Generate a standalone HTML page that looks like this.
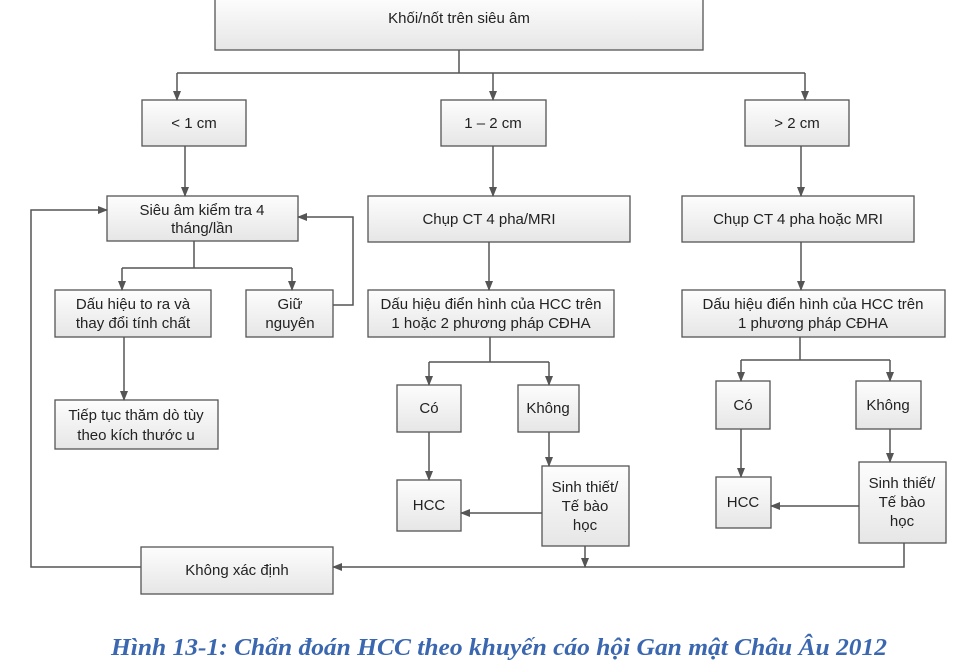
<!DOCTYPE html>
<html><head><meta charset="utf-8"><style>
html,body{margin:0;padding:0;background:#fff;}
svg{display:block;}
text{font-family:"Liberation Sans",sans-serif;font-size:15px;fill:#222;text-anchor:middle;}
.b{fill:url(#g);stroke:#555;stroke-width:1.3;}
.l{stroke:#555;stroke-width:1.5;fill:none;}
</style></head><body>
<svg width="975" height="670" viewBox="0 0 975 670">
<defs>
<linearGradient id="g" x1="0" y1="0" x2="0" y2="1"><stop offset="0" stop-color="#fdfdfd"/><stop offset="1" stop-color="#e6e6e6"/></linearGradient>
<marker id="a" markerWidth="10" markerHeight="8" refX="9" refY="4" orient="auto" markerUnits="userSpaceOnUse"><path d="M0,0 L10,4 L0,8 z" fill="#555"/></marker>
</defs>
<!-- boxes -->
<rect class="b" x="215" y="-2" width="488" height="52"/>
<text x="459" y="23">Khối/nốt trên siêu âm</text>
<rect class="b" x="142" y="100" width="104" height="46"/><text x="194" y="128">&lt; 1 cm</text>
<rect class="b" x="441" y="100" width="105" height="46"/><text x="493" y="128">1 – 2 cm</text>
<rect class="b" x="745" y="100" width="104" height="46"/><text x="797" y="128">&gt; 2 cm</text>
<rect class="b" x="107" y="196" width="191" height="45"/><text x="202" y="215">Siêu âm kiểm tra 4</text><text x="202" y="233">tháng/lần</text>
<rect class="b" x="368" y="196" width="262" height="46"/><text x="489" y="224">Chụp CT 4 pha/MRI</text>
<rect class="b" x="682" y="196" width="232" height="46"/><text x="798" y="224">Chụp CT 4 pha hoặc MRI</text>
<rect class="b" x="55" y="290" width="156" height="47"/><text x="133" y="309">Dấu hiệu to ra và</text><text x="133" y="328">thay đổi tính chất</text>
<rect class="b" x="246" y="290" width="87" height="47"/><text x="290" y="309">Giữ</text><text x="290" y="328">nguyên</text>
<rect class="b" x="368" y="290" width="246" height="47"/><text x="491" y="309">Dấu hiệu điển hình của HCC trên</text><text x="491" y="328">1 hoặc 2 phương pháp CĐHA</text>
<rect class="b" x="682" y="290" width="263" height="47"/><text x="813" y="309">Dấu hiệu điển hình của HCC trên</text><text x="813" y="328">1 phương pháp CĐHA</text>
<rect class="b" x="55" y="400" width="163" height="49"/><text x="136" y="420">Tiếp tục thăm dò tùy</text><text x="136" y="440">theo kích thước u</text>
<rect class="b" x="397" y="385" width="64" height="47"/><text x="429" y="413">Có</text>
<rect class="b" x="518" y="385" width="61" height="47"/><text x="548" y="413">Không</text>
<rect class="b" x="397" y="480" width="64" height="51"/><text x="429" y="510">HCC</text>
<rect class="b" x="542" y="466" width="87" height="80"/><text x="585" y="492">Sinh thiết/</text><text x="585" y="511">Tế bào</text><text x="585" y="530">học</text>
<rect class="b" x="716" y="381" width="54" height="48"/><text x="743" y="410">Có</text>
<rect class="b" x="856" y="381" width="65" height="48"/><text x="888" y="410">Không</text>
<rect class="b" x="716" y="477" width="55" height="51"/><text x="743" y="507">HCC</text>
<rect class="b" x="859" y="462" width="87" height="81"/><text x="902" y="488">Sinh thiết/</text><text x="902" y="507">Tế bào</text><text x="902" y="526">học</text>
<rect class="b" x="141" y="547" width="192" height="47"/><text x="237" y="575">Không xác định</text>
<!-- connectors -->
<path class="l" d="M459,50 V73 M177,73 H805"/>
<path class="l" marker-end="url(#a)" d="M177,73 V100"/>
<path class="l" marker-end="url(#a)" d="M493,73 V100"/>
<path class="l" marker-end="url(#a)" d="M805,73 V100"/>
<path class="l" marker-end="url(#a)" d="M185,146 V196"/>
<path class="l" marker-end="url(#a)" d="M493,146 V196"/>
<path class="l" marker-end="url(#a)" d="M801,146 V196"/>
<path class="l" d="M194,241 V268 M122,268 H292"/>
<path class="l" marker-end="url(#a)" d="M122,268 V290"/>
<path class="l" marker-end="url(#a)" d="M292,268 V290"/>
<path class="l" marker-end="url(#a)" d="M333,305 H353 V217 H298"/>
<path class="l" marker-end="url(#a)" d="M124,337 V400"/>
<path class="l" marker-end="url(#a)" d="M141,567 H31 V210 H107"/>
<path class="l" marker-end="url(#a)" d="M489,242 V290"/>
<path class="l" marker-end="url(#a)" d="M801,242 V290"/>
<path class="l" d="M490,337 V362 M429,362 H549"/>
<path class="l" marker-end="url(#a)" d="M429,362 V385"/>
<path class="l" marker-end="url(#a)" d="M549,362 V385"/>
<path class="l" marker-end="url(#a)" d="M429,432 V480"/>
<path class="l" marker-end="url(#a)" d="M549,432 V466"/>
<path class="l" marker-end="url(#a)" d="M542,513 H461"/>
<path class="l" d="M800,337 V360 M741,360 H890"/>
<path class="l" marker-end="url(#a)" d="M741,360 V381"/>
<path class="l" marker-end="url(#a)" d="M890,360 V381"/>
<path class="l" marker-end="url(#a)" d="M741,429 V477"/>
<path class="l" marker-end="url(#a)" d="M890,429 V462"/>
<path class="l" marker-end="url(#a)" d="M859,506 H771"/>
<path class="l" marker-end="url(#a)" d="M904,543 V567 H333"/>
<path class="l" marker-end="url(#a)" d="M585,546 V567"/>
<text x="499" y="655" textLength="776" lengthAdjust="spacingAndGlyphs" style="font-family:'Liberation Serif',serif;font-weight:bold;font-style:italic;font-size:24px;fill:#3a67b0;">Hình 13-1: Chẩn đoán HCC theo khuyến cáo hội Gan mật Châu Âu 2012</text>
</svg>
</body></html>
